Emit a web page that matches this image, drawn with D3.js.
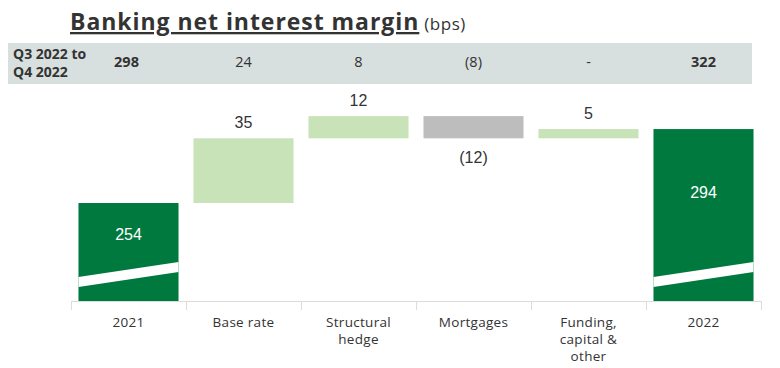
<!DOCTYPE html>
<html><head><meta charset="utf-8">
<script src="https://cdn.jsdelivr.net/npm/d3@7"></script>
<style>body{margin:0;background:#fff}svg{display:block}</style>
</head><body>
<svg id="c" width="780" height="368"></svg>
<script>
const categories = ["2021","Base rate","Structural hedge","Mortgages","Funding, capital & other","2022"];
const categoryLines = [["2021"],["Base rate"],["Structural","hedge"],["Mortgages"],["Funding,","capital &","other"],["2022"]];
const types = ["total","delta","delta","delta","delta","total"];
const values = [254, 35, 12, -12, 5, 294];
const valueLabels = ["254","35","12","(12)","5","294"];
const quarterLabels = ["298","24","8","(8)","-","322"];
const quarterBold = [true,false,false,false,false,true];
const axisBase = 201;
const breakValue = 215;

const svg = d3.select("#c");
const font = "'Open Sans', sans-serif";

let run = 0;
const bars = values.map((v,i)=>{
  if(types[i]==="total"){ run = v; return {i, lo: axisBase, hi: v, v}; }
  const start = run; run += v;
  return {i, lo: Math.min(start,run), hi: Math.max(start,run), v};
});

const x = d3.scaleBand().domain(categories).range([71,761]).paddingInner(0.13).paddingOuter(0.065);
const y = d3.scaleLinear().domain([axisBase, 320]).range([301, 81]);

// title
const title = svg.append("text").attr("x",70).attr("y",30).attr("font-family",font).attr("fill","#333");
title.append("tspan").attr("font-size",23).attr("font-weight",700).attr("letter-spacing",0.95).attr("text-decoration","underline").text("Banking net interest margin");
title.append("tspan").attr("font-size",17).attr("dx",5).attr("letter-spacing",0.5).text("(bps)");

// header band
svg.append("rect").attr("x",8).attr("y",43).attr("width",744).attr("height",41).attr("fill","#d8dfdf");
svg.append("text").attr("x",13).attr("y",59).attr("font-family",font).attr("font-size",14).attr("font-weight",700).attr("fill","#333").text("Q3 2022 to");
svg.append("text").attr("x",13).attr("y",77).attr("font-family",font).attr("font-size",14).attr("font-weight",700).attr("fill","#333").text("Q4 2022");
svg.selectAll("text.q").data(quarterLabels).join("text").attr("class","q")
  .attr("x",(d,i)=>x(categories[i])+x.bandwidth()/2 - (i===0?2:0)).attr("y",67)
  .attr("text-anchor","middle").attr("font-family",font).attr("font-size",14.5)
  .attr("font-weight",(d,i)=>quarterBold[i]?700:400).attr("fill","#333").text(d=>d);

// axis line and ticks
const bounds = categories.map(c=>x(c)-x.step()*x.paddingInner()/2);
bounds.push(x(categories[categories.length-1])+x.bandwidth()+x.step()*x.paddingInner()/2);
svg.append("line").attr("x1",bounds[0]).attr("x2",bounds[bounds.length-1]).attr("y1",y(axisBase)+0.5).attr("y2",y(axisBase)+0.5).attr("stroke","#dcdcdc");
svg.selectAll("line.tk").data(bounds).join("line").attr("class","tk")
  .attr("x1",d=>Math.round(d)+0.5).attr("x2",d=>Math.round(d)+0.5).attr("y1",y(axisBase)).attr("y2",y(axisBase)+9).attr("stroke","#dcdcdc");

// bars
const colour = (b)=> types[b.i]==="total" ? "#00793f" : (b.v<0 ? "#bdbdbd" : "#c8e3b8");
svg.selectAll("rect.bar").data(bars).join("rect").attr("class","bar")
  .attr("x",b=>x(categories[b.i])).attr("width",x.bandwidth())
  .attr("y",b=>y(b.hi)).attr("height",b=>y(b.lo)-y(b.hi)).attr("fill",colour);

// break slashes on total bars
const totals = bars.filter(b=>types[b.i]==="total");
svg.selectAll("path.brk").data(totals).join("path").attr("class","brk")
  .attr("fill","#fff")
  .attr("d",b=>{
    const x0 = x(categories[b.i]), x1 = x0 + x.bandwidth();
    const yc = y(breakValue);
    return `M${x0},${yc+2} L${x1},${yc-13} L${x1},${yc-3} L${x0},${yc+12} Z`;
  });

// value labels
svg.selectAll("text.val").data(bars).join("text").attr("class","val")
  .attr("x",b=>x(categories[b.i])+x.bandwidth()/2)
  .attr("y",b=>{
    if(types[b.i]==="total") return y(b.hi) + (y(breakValue)-y(b.hi))*0.43 + 6;
    if(b.v<0) return y(b.lo)+25;
    return y(b.hi)-10;
  })
  .attr("text-anchor","middle").attr("font-family","'Liberation Sans', Arial, sans-serif").attr("font-size",16)
  .attr("fill",b=>types[b.i]==="total"?"#fff":"#333").text(b=>valueLabels[b.i]);

// category labels
categoryLines.forEach((lines,i)=>{
  const cx = x(categories[i])+x.bandwidth()/2;
  const t = svg.append("text").attr("x",cx).attr("y",327)
    .attr("text-anchor","middle").attr("font-family",font).attr("font-size",13.5).attr("letter-spacing",0.3).attr("fill","#333");
  lines.forEach((l,j)=>t.append("tspan").attr("x",cx).attr("dy",j?17:0).text(l));
});
</script>
</body></html>
